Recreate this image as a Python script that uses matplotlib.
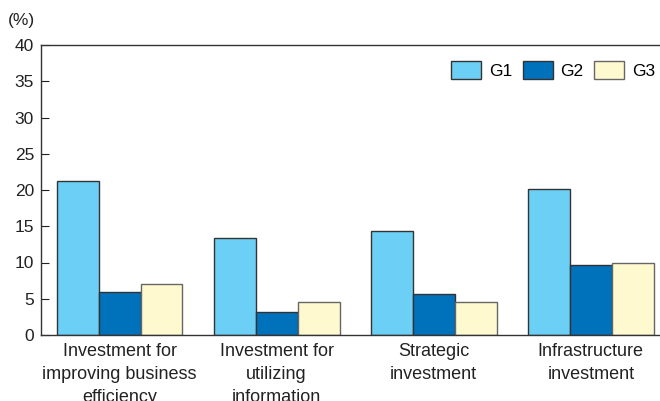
import matplotlib
matplotlib.use("Agg")
import matplotlib.pyplot as plt
import numpy as np

plt.rcParams['font.family'] = ['Liberation Sans', 'DejaVu Sans']

categories = [
    "Investment for\nimproving business\nefficiency",
    "Investment for\nutilizing\ninformation",
    "Strategic\ninvestment",
    "Infrastructure\ninvestment",
]
series_names = ["G1", "G2", "G3"]
g1 = [21.2, 13.4, 14.4, 20.1]
g2 = [6.0, 3.2, 5.6, 9.6]
g3 = [7.1, 4.6, 4.6, 10.0]
y_ticks = [0, 5, 10, 15, 20, 25, 30, 35, 40]

colors = ["#6ccff6", "#0071bb", "#fff9cf"]
edges = ["#333333", "#333333", "#666666"]
FS = 12.5
FS_CAT = 13

fig = plt.figure(figsize=(6.6, 4.01), dpi=100)
ax = fig.add_axes([41 / 660, 66 / 401, 619 / 660, 290 / 401])

x = np.arange(len(categories))
w = 0.267
for i, (vals, name, c, ec) in enumerate(zip([g1, g2, g3], series_names, colors, edges)):
    ax.bar(x + (i - 1) * w, vals, width=w, color=c, edgecolor=ec,
           linewidth=1.0, label=name, zorder=2)

ax.set_xlim(-0.5, 3.44)
ax.set_ylim(0, 40)
ax.set_yticks(y_ticks)
ax.set_xticks(x)
ax.set_xticklabels(categories, fontsize=FS_CAT, color="#222222", linespacing=1.46)
ax.tick_params(axis="x", length=0, pad=6)
ax.tick_params(axis="y", direction="in", length=6, width=0.8, labelsize=FS,
               pad=5, colors="#222222")
ax.spines["right"].set_visible(False)
for s in ("left", "top", "bottom"):
    ax.spines[s].set_linewidth(1.0)
    ax.spines[s].set_color("#333333")

fig.text(8 / 660, 1 - 21 / 401, "(%)", fontsize=FS, color="#222222",
         va="center", ha="left")

leg = ax.legend(loc="upper right", bbox_to_anchor=(655 / 660, 1 - 61 / 401),
                bbox_transform=fig.transFigure, ncol=3, frameon=False,
                fontsize=FS, handlelength=1.73, handleheight=1.24,
                handletextpad=0.44, columnspacing=0.61, borderpad=0,
                borderaxespad=0)

fig.savefig("out.png", dpi=100)
